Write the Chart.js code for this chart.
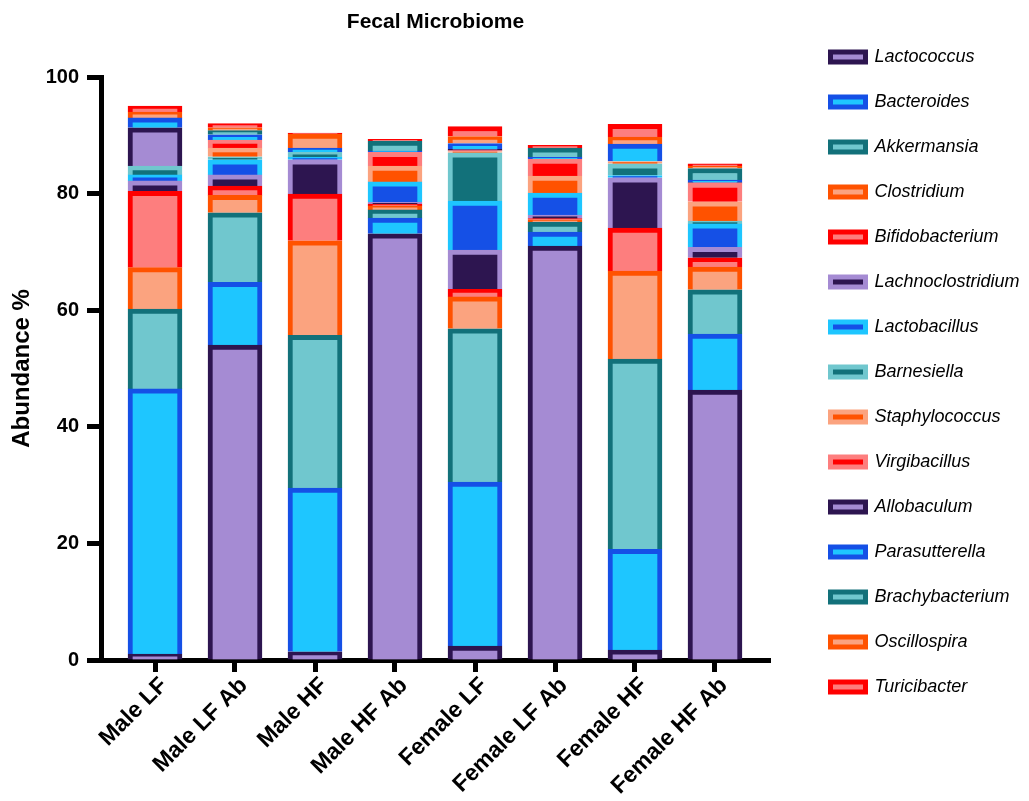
<!DOCTYPE html>
<html lang="en">
<head>
    <meta charset="UTF-8">
    <title>Fecal Microbiome</title>
    <script src="https://cdn.jsdelivr.net/npm/chart.js"></script>
    <style>
        body { margin: 0; background: #fff; }
        #wrap { width: 1029px; height: 801px; }
    </style>
</head>
<body>
    <div id="wrap">
        <canvas id="myChart"></canvas>
    </div>
    <script>
    // Groups on the x axis
    const groups = ['Male LF', 'Male LF Ab', 'Male HF', 'Male HF Ab', 'Female LF', 'Female LF Ab', 'Female HF', 'Female HF Ab'];
    const yTicks = [0, 20, 40, 60, 80, 100];

    // Abundance % per genus (bottom of stack first)
    const lactococcus       = [1.0, 54.0, 1.4, 73.1, 2.4, 71.0, 1.7, 46.3];
    const bacteroides       = [45.5, 10.8, 28.1, 2.7, 28.1, 2.4, 17.3, 9.6];
    const akkermansia       = [13.7, 11.9, 26.2, 1.4, 26.3, 1.7, 32.6, 7.6];
    const clostridium       = [7.1, 3.0, 16.2, 0.7, 5.5, 0.4, 15.1, 3.9];
    const bifidobacterium   = [13.1, 1.6, 8.0, 0.3, 1.3, 0.2, 7.4, 1.6];
    const lachnoclostridium = [1.8, 1.9, 5.9, 0.3, 6.7, 0.6, 8.6, 1.8];
    const lactobacillus     = [1.0, 2.6, 0.4, 3.5, 8.4, 3.8, 0.4, 4.0];
    const barnesiella       = [1.5, 0.5, 0.9, 0, 8.3, 0, 2.0, 0.5];
    const staphylococcus    = [0, 1.5, 0, 2.7, 0.2, 2.9, 0.4, 3.3];
    const virgibacillus     = [0, 1.4, 0, 2.4, 0.2, 2.9, 0, 3.2];
    const allobaculum       = [6.6, 0, 0, 0, 0.2, 0, 0, 0.1];
    const parasutterella    = [1.7, 0.9, 0.7, 0.2, 1.0, 0.3, 3.0, 0.4];
    const brachybacterium   = [0, 0.7, 0, 1.7, 0, 1.6, 0, 2.0];
    const oscillospira      = [1.0, 0.5, 2.4, 0, 1.2, 0, 1.2, 0.4];
    const turicibacter      = [1.0, 0.7, 0.2, 0.3, 1.7, 0.5, 2.2, 0.4];

    // colours
    const darkPurple = '#2d1550', lightPurple = '#a58bd3';
    const blue = '#1550e6', cyan = '#1ec6ff';
    const teal = '#12717a', lightTeal = '#70c7ce';
    const orange = '#ff5200', salmon = '#fba37f';
    const red = '#ff0000', pink = '#fd7e7e';

    const series = [
        ['Lactococcus', lactococcus, lightPurple, darkPurple],
        ['Bacteroides', bacteroides, cyan, blue],
        ['Akkermansia', akkermansia, lightTeal, teal],
        ['Clostridium', clostridium, salmon, orange],
        ['Bifidobacterium', bifidobacterium, pink, red],
        ['Lachnoclostridium', lachnoclostridium, darkPurple, lightPurple],
        ['Lactobacillus', lactobacillus, blue, cyan],
        ['Barnesiella', barnesiella, teal, lightTeal],
        ['Staphylococcus', staphylococcus, orange, salmon],
        ['Virgibacillus', virgibacillus, red, pink],
        ['Allobaculum', allobaculum, lightPurple, darkPurple],
        ['Parasutterella', parasutterella, cyan, blue],
        ['Brachybacterium', brachybacterium, lightTeal, teal],
        ['Oscillospira', oscillospira, salmon, orange],
        ['Turicibacter', turicibacter, pink, red]
    ];

    const datasets = series.map(([name, values, fill, border]) => ({
        label: name,
        data: values.map((v, i) => ({ x: i, y: v })),
        backgroundColor: fill,
        borderColor: border,
        borderWidth: 5,
        borderSkipped: 'start',
        barThickness: 54
    }));

    Chart.defaults.font.family = 'Arial, "Liberation Sans", Helvetica, sans-serif';
    Chart.defaults.color = '#000';

    const ctx = document.getElementById('myChart').getContext('2d');
    const myChart = new Chart(ctx, {
        type: 'bar',
        data: { datasets: datasets },
        options: {
            responsive: true,
            maintainAspectRatio: false,
            animation: false,
            layout: { padding: 0 },
            scales: {
                x: {
                    type: 'linear',
                    stacked: true,
                    offset: false,
                    min: -0.675,
                    max: 7.6875,
                    afterBuildTicks: scale => { scale.ticks = groups.map((g, i) => ({ value: i })); },
                    afterFit: scale => { scale.height = 141; },
                    ticks: {
                        autoSkip: false,
                        minRotation: 45,
                        maxRotation: 45,
                        padding: 0,
                        labelOffset: 9,
                        font: { size: 23, weight: 'bold' },
                        callback: v => groups[v]
                    },
                    grid: { display: true, offset: false, drawOnChartArea: false, drawTicks: true, tickLength: 12, tickWidth: 5, tickColor: '#000' },
                    border: { display: true, width: 5, color: '#000' }
                },
                y: {
                    stacked: true,
                    min: 0,
                    max: 100,
                    afterBuildTicks: scale => { scale.ticks = yTicks.map(v => ({ value: v })); },
                    afterFit: scale => { scale.width = 101; },
                    ticks: { padding: 8, font: { size: 20, weight: 'bold' } },
                    grid: { display: true, drawOnChartArea: false, drawTicks: true, tickLength: 14, tickWidth: 5, tickColor: '#000' },
                    border: { display: true, width: 5, color: '#000' },
                    title: { display: true, text: 'Abundance %', font: { size: 24, weight: 'bold' }, padding: { top: 8, bottom: 0 } }
                },
                // empty spacer between the plot and the legend
                pad: {
                    type: 'linear',
                    position: 'right',
                    display: true,
                    afterFit: scale => { scale.width = 33.5; },
                    ticks: { display: false },
                    grid: { display: false, drawTicks: false },
                    border: { display: false }
                }
            },
            plugins: {
                legend: {
                    position: 'right',
                    align: 'start',
                    maxWidth: 225.5,
                    title: { display: true, text: '', padding: 0, font: { size: 17.5 } },
                    labels: {
                        boxWidth: 35,
                        boxHeight: 10,
                        padding: 27,
                        color: '#000',
                        font: { size: 18, style: 'italic' }
                    }
                },
                title: {
                    display: true,
                    fullSize: false,
                    text: 'Fecal Microbiome',
                    color: '#000',
                    font: { size: 21, weight: 'bold' },
                    padding: { top: 9.4, bottom: 42.4 }
                },
                tooltip: { enabled: false }
            }
        }
    });
    </script>
</body>
</html>
